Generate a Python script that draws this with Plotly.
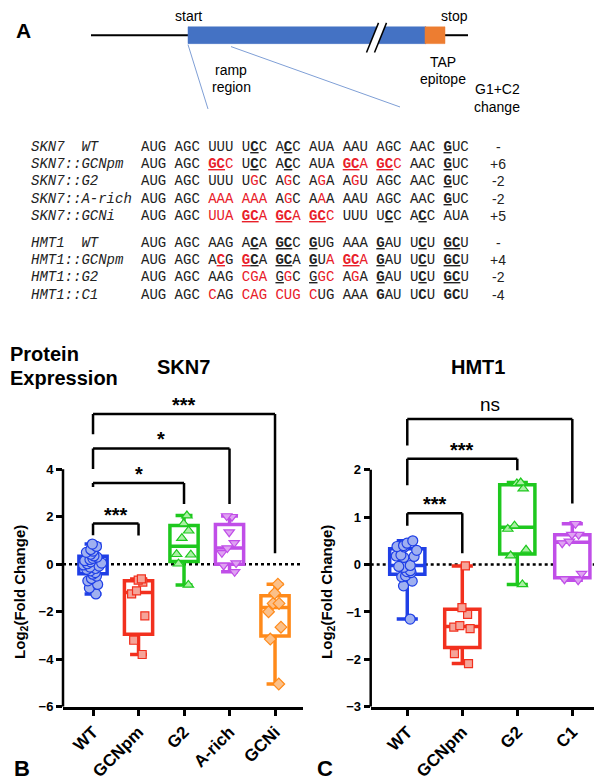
import numpy as np
import plotly.graph_objects as go

W, H = 602, 780

# ---------------- data ----------------
skn7_groups = ["WT", "GCNpm", "G2", "A-rich", "GCNi"]
skn7_WT = [0.85, 0.75, 0.62, 0.55, 0.5, 0.42, 0.35, 0.3, 0.25, 0.2, 0.15, 0.1, 0.05, 0.02,
           -0.03, -0.08, -0.12, -0.18, -0.22, -0.28, -0.35, -0.42, -0.5, -0.6, -0.7, -0.85, -1.0, -1.25]
skn7_GCNpm = [-0.62, -0.75, -0.67, -1.12, -1.25, -2.17, -3.2, -3.8]
skn7_G2 = [2.05, 1.71, 1.41, 1.1, 0.42, 0.4, 0.02, -0.87]
skn7_Arich = [2.03, 2.0, 1.35, 0.9, 0.68, 0.48, 0.05, -0.05, -0.32]
skn7_GCNi = [-0.84, -1.22, -1.65, -1.65, -2.0, -2.65, -3.15, -5.04]

hmt1_groups = ["WT", "GCNpm", "G2", "C1"]
hmt1_WT = [0.5, 0.45, 0.4, 0.38, 0.37, 0.3, 0.2, 0.18, 0.17, 0.15, -0.02, -0.04, -0.06,
           -0.13, -0.15, -0.17, -0.24, -0.26, -0.35, -0.45, -1.15]
hmt1_GCNpm = [-0.03, -0.91, -1.05, -1.29, -1.35, -1.32, -1.88, -2.09]
hmt1_G2 = [1.73, 1.71, 1.6, 0.82, 0.75, 0.31, 0.19, -0.42]
hmt1_C1 = [0.86, 0.63, 0.63, 0.49, 0.45, -0.19, -0.31, -0.33]

# significance brackets: (group a, group b, top, leg-a end, leg-b end, label)
skn7_sig = [("WT", "GCNpm", 1.71, 1.22, 1.21, "***"),
            ("WT", "G2", 3.42, 3.25, 2.54, "*"),
            ("WT", "A-rich", 4.875, 4.01, 2.54, "*"),
            ("WT", "GCNi", 6.33, 5.47, 0.46, "***")]
hmt1_sig = [("WT", "GCNpm", 1.08, 0.82, 0.24, "***"),
            ("WT", "G2", 2.23, 1.67, 1.99, "***"),
            ("WT", "C1", 3.07, 2.51, 1.29, "ns")]

# sequence panel text
RED = "#e8202a"
def R(s): return f'<span style="color:{RED}">{s}</span>'
def U(s): return f'<span style="text-decoration:underline">{s}</span>'
def BU(s): return f'<span style="text-decoration:underline"><b>{s}</b></span>'
def RBU(s): return f'<span style="color:{RED};text-decoration:underline"><b>{s}</b></span>'
def B(s): return f'<b>{s}</b>'

skn7_labels = ["SKN7\u00a0\u00a0WT", "SKN7::GCNpm", "SKN7::G2", "SKN7::A-rich", "SKN7::GCNi"]
skn7_seqs = [
    ["AUG", "AGC", "UUU", "U" + BU("C") + "C", "A" + BU("C") + "C", "AUA", "AAU", "AGC", "AAC", BU("G") + "UC"],
    ["AUG", "AGC", RBU("GC") + R("C"), "U" + BU("C") + "C", "A" + BU("C") + "C", "AUA", RBU("GC") + R("A"),
     RBU("GC") + R("C"), "AAC", BU("G") + "UC"],
    ["AUG", "AGC", "UUU", "U" + R("G") + "C", "A" + R("G") + "C", "A" + R("G") + "A", "A" + R("G") + "U",
     "AGC", "AAC", BU("G") + "UC"],
    ["AUG", "AGC", R("AAA"), R("AAA"), "A" + R("G") + "C", "A" + R("A") + "A", "AAU", "AGC", "AAC", BU("G") + "UC"],
    ["AUG", "AGC", R("UUA"), RBU("GC") + R("A"), RBU("GC") + R("A"), RBU("GC") + R("C"), "UUU",
     "U" + BU("C") + "C", "A" + BU("C") + "C", "AUA"],
]
skn7_change = ["-", "+6", "-2", "-2", "+5"]

hmt1_labels = ["HMT1\u00a0\u00a0WT", "HMT1::GCNpm", "HMT1::G2", "HMT1::C1"]
hmt1_seqs = [
    ["AUG", "AGC", "AAG", "A" + BU("C") + "A", BU("GC") + "C", BU("G") + "UG", "AAA", BU("G") + "AU",
     "U" + BU("C") + "U", BU("GC") + "U"],
    ["AUG", "AGC", "A" + RBU("C") + "G", RBU("G") + BU("C") + "A", BU("GC") + "A", BU("G") + "U" + R("A"),
     RBU("GC") + R("A"), BU("G") + "AU", "U" + BU("C") + "U", BU("GC") + "U"],
    ["AUG", "AGC", "AAG", R("CGA"), U("G") + R("G") + "C", U("G") + R("GC"), "A" + R("G") + "A",
     BU("G") + "AU", "U" + BU("C") + "U", BU("GC") + "U"],
    ["AUG", "AGC", R("C") + "AG", R("CAG"), R("CUG"), R("C") + "UG", "AAA", B("G") + "AU", "U" + B("C") + "U",
     B("GC") + "U"],
]
hmt1_change = ["-", "+4", "-2", "-4"]

# ---------------- styling ----------------
SANS = "Liberation Sans, Arial, sans-serif"
MONO = "Liberation Mono, Courier New, monospace"
styles = {
    "WT": dict(line="#1f3fe6", fill="#9fb0f0", symbol="circle", size=10),
    "GCNpm": dict(line="#f2301e", fill="#f5a499", symbol="square", size=8),
    "G2": dict(line="#1ec81e", fill="#aaf0a4", symbol="triangle-up", size=9),
    "A-rich": dict(line="#c04ee8", fill="#dfa2f2", symbol="triangle-down", size=9),
    "C1": dict(line="#c04ee8", fill="#dfa2f2", symbol="triangle-down", size=9),
    "GCNi": dict(line="#ff8a1a", fill="#fbc089", symbol="diamond", size=9),
}

def P(x, y):
    return x / W, 1 - y / H

fig = go.Figure()

def add_groups(groups, datasets, xa, ya, bw):
    for g, vals in zip(groups, datasets):
        st = styles[g]
        q1, med, q3 = np.percentile(vals, [25, 50, 75], method="weibull")
        fig.add_trace(go.Box(x=[g], q1=[q1], median=[med], q3=[q3],
                             lowerfence=[min(vals)], upperfence=[max(vals)],
                             xaxis=xa, yaxis=ya, width=bw, whiskerwidth=0.6,
                             fillcolor="white", line=dict(color=st["line"], width=3.5),
                             boxpoints=False, hoverinfo="skip"))
        fig.add_trace(go.Box(x=[g] * len(vals), y=vals, xaxis=xa, yaxis=ya, width=bw,
                             boxpoints="all", pointpos=0, jitter=0.7,
                             fillcolor="rgba(0,0,0,0)", line=dict(color="rgba(0,0,0,0)", width=0),
                             marker=dict(symbol=st["symbol"], size=st["size"], color=st["fill"],
                                         line=dict(color=st["line"], width=1.2))))

add_groups(skn7_groups, [skn7_WT, skn7_GCNpm, skn7_G2, skn7_Arich, skn7_GCNi], "x", "y", 0.62)
add_groups(hmt1_groups, [hmt1_WT, hmt1_GCNpm, hmt1_G2, hmt1_C1], "x2", "y2", 0.64)

shapes = []
annotations = []

# ---- axes for B and C ----
ytop_px, ybot_px = 395, 706
B_yr = [-6, -6 + (ybot_px - ytop_px) / 24.0]
C_yr = [-3, -3 + (ybot_px - ytop_px) / 47.9]
ydom = [1 - ybot_px / H, 1 - ytop_px / H]

axis_common = dict(showgrid=False, zeroline=False, ticks="outside", ticklen=6, tickwidth=2.5,
                   tickcolor="black")
fig.update_layout(
    xaxis=dict(domain=[55 / W, 295 / W], anchor="y", type="category", categoryorder="array",
               categoryarray=skn7_groups, range=[-0.66, 4.615], showline=True, linewidth=2.5,
               linecolor="black", tickangle=-45,
               tickfont=dict(family=SANS, size=17, color="black", weight="bold"), **axis_common),
    yaxis=dict(domain=ydom, anchor="x", range=B_yr, tickvals=[-6, -4, -2, 0, 2, 4], showline=False,
               tickfont=dict(family=SANS, size=13, color="black", weight="bold"), **axis_common),
    xaxis2=dict(domain=[362.7 / W, 1.0], anchor="y2", type="category", categoryorder="array",
                categoryarray=hmt1_groups, range=[-0.665, 3.685], showline=True, linewidth=2.5,
                linecolor="black", tickangle=-45,
                tickfont=dict(family=SANS, size=17, color="black", weight="bold"), **axis_common),
    yaxis2=dict(domain=ydom, anchor="x2", range=C_yr, tickvals=[-3, -2, -1, 0, 1, 2], showline=False,
                tickfont=dict(family=SANS, size=13, color="black", weight="bold"), **axis_common),
)

for xd, yr_, lo, hi in [("x domain", "y", -6, 4), ("x2 domain", "y2", -3, 2)]:
    shapes.append(dict(type="line", xref=xd, yref=yr_, x0=0, x1=0, y0=lo, y1=hi,
                       line=dict(color="black", width=2.5)))
    shapes.append(dict(type="line", xref=xd, yref=yr_, x0=0, x1=1, y0=0, y1=0,
                       line=dict(color="black", width=2.5, dash="dot"), layer="below"))

def add_brackets(sig, groups, xr, yr_):
    for a, b, top, la, lb, lab in sig:
        ia, ib = groups.index(a), groups.index(b)
        ln = dict(color="black", width=2.5)
        shapes.append(dict(type="line", xref=xr, yref=yr_, x0=ia, x1=ia, y0=la, y1=top, line=ln))
        shapes.append(dict(type="line", xref=xr, yref=yr_, x0=ia, x1=ib, y0=top, y1=top, line=ln))
        shapes.append(dict(type="line", xref=xr, yref=yr_, x0=ib, x1=ib, y0=lb, y1=top, line=ln))
        if lab == "ns":
            annotations.append(dict(x=(ia + ib) / 2, y=top, xref=xr, yref=yr_, text=lab, showarrow=False,
                                    yanchor="bottom", yshift=2, font=dict(family=SANS, size=19, color="black")))
        else:
            annotations.append(dict(x=(ia + ib) / 2, y=top, xref=xr, yref=yr_, text=lab, showarrow=False,
                                    yanchor="bottom", yshift=-4,
                                    font=dict(family=SANS, size=20, color="black", weight="bold")))

add_brackets(skn7_sig, skn7_groups, "x", "y")
add_brackets(hmt1_sig, hmt1_groups, "x2", "y2")

def ann(x, y, text, size=14, bold=False, xanchor="center", family=SANS, angle=0, color="black", italic=False):
    px_, py_ = P(x, y)
    f = dict(family=family, size=size, color=color)
    if bold:
        f["weight"] = "bold"
    if italic:
        f["style"] = "italic"
    annotations.append(dict(x=px_, y=py_, xref="paper", yref="paper", text=text, showarrow=False,
                            xanchor=xanchor, yanchor="middle", font=f, textangle=angle))

# titles / labels for B, C
ann(0, 350, "Protein", 20, True, "left")
ann(0, 374, "Expression", 20, True, "left")
ann(175, 363, "SKN7", 20, True)
ann(470, 363, "HMT1", 20, True)
ann(13, 590, "Log<sub>2</sub>(Fold Change)", 15, True, angle=-90)
ann(320, 590, "Log<sub>2</sub>(Fold Change)", 15, True, angle=-90)
ann(4, 768, "B", 22, True, "left")
ann(307, 768, "C", 22, True, "left")

# ---- panel A ----
ann(6, 23, "A", 21, True, "left")

def line_px(x0, y0, x1, y1, color="black", width=2):
    a = P(x0, y0); b = P(x1, y1)
    shapes.append(dict(type="line", xref="paper", yref="paper", x0=a[0], y0=a[1], x1=b[0], y1=b[1],
                       line=dict(color=color, width=width)))

def rect_px(x0, y0, x1, y1, fill):
    a = P(x0, y0); b = P(x1, y1)
    shapes.append(dict(type="rect", xref="paper", yref="paper", x0=a[0], y0=b[1], x1=b[0], y1=a[1],
                       fillcolor=fill, line=dict(color=fill, width=0.5)))

line_px(83, 27.5, 181, 27.5)
line_px(436, 27.5, 460, 27.5)
rect_px(180, 19, 418, 36, "#4472c4")
rect_px(417, 19, 437, 36, "#ed7d31")
# break marks
pts = [P(358.5, 45), P(370.5, 15), P(378.5, 15), P(366.5, 45)]
path = "M {} {} L {} {} L {} {} L {} {} Z".format(*[c for p in pts for c in p])
shapes.append(dict(type="path", xref="paper", yref="paper", path=path, fillcolor="white",
                   line=dict(color="white", width=0)))
line_px(358.5, 45, 370.5, 15, width=1.5)
line_px(366.5, 45, 378.5, 15, width=1.5)
# zoom lines
line_px(180, 37, 200, 102, color="#7f9fd6", width=1)
line_px(223, 39, 392, 100, color="#7f9fd6", width=1)

ann(180, 8, "start", 14)
ann(446, 8, "stop", 14)
ann(223, 63, "ramp", 14)
ann(223, 80, "region", 14)
ann(435, 55, "TAP", 14)
ann(435, 72, "epitope", 14)
ann(489, 82, "G1+C2", 14)
ann(489, 100, "change", 14)

skn7_y = [140, 157.5, 175, 192.5, 210]
hmt1_y = [237, 254.5, 272, 289.5]
for ys, labels, seqs, ch in [(skn7_y, skn7_labels, skn7_seqs, skn7_change),
                             (hmt1_y, hmt1_labels, hmt1_seqs, hmt1_change)]:
    for y, lab, seq, c in zip(ys, labels, seqs, ch):
        ann(21, y, lab, 14, False, "left", MONO, color="#222222", italic=True)
        ann(131, y, " ".join(seq), 14, False, "left", MONO, color="#222222")
        ann(490, y, c, 14, False, "center", SANS, color="#222222")

fig.update_layout(width=W, height=H, margin=dict(l=0, r=0, t=0, b=0), showlegend=False,
                  paper_bgcolor="white", plot_bgcolor="white", boxmode="overlay",
                  shapes=shapes, annotations=annotations)

fig.write_html("out.html")
